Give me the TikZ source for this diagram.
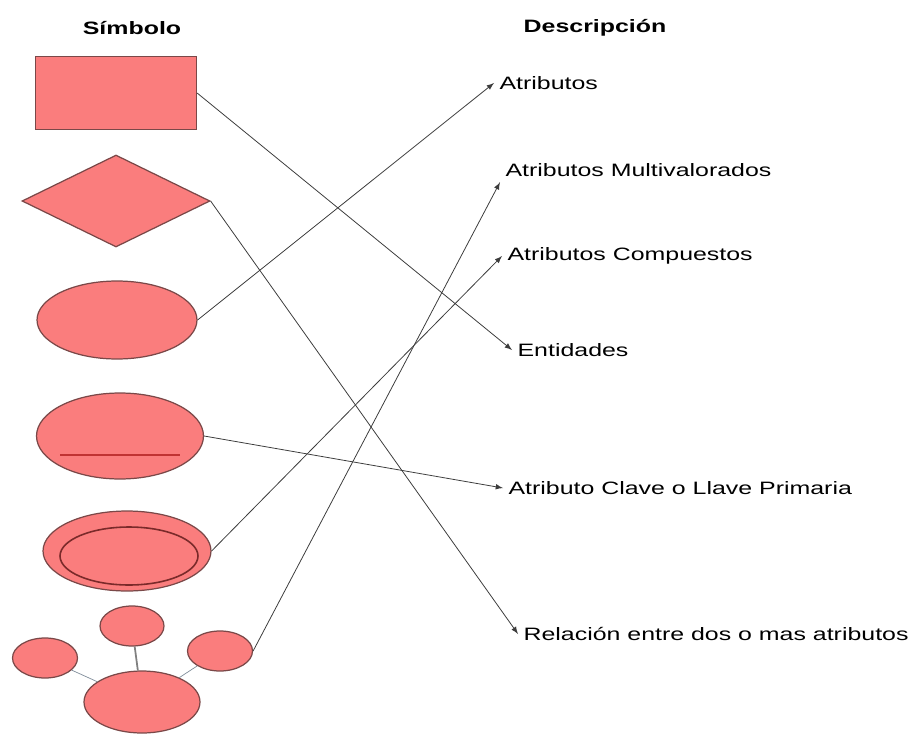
\documentclass[tikz,border=0pt]{standalone}
\usepackage{fontspec}
\setmainfont[FakeStretch=1.39]{Liberation Sans}
\usepackage{xcolor}
\usetikzlibrary{shapes.geometric}
\usetikzlibrary{arrows}

\definecolor{symfill}{HTML}{FA7D7D}
\definecolor{symline}{HTML}{7A4848}
\definecolor{keyline}{HTML}{C03333}
\definecolor{innerline}{HTML}{7A2A2A}
\definecolor{joingray}{HTML}{7F8C99}
\definecolor{linkgray}{HTML}{3C3C3C}

\begin{document}
\begin{tikzpicture}[x=0.02cm,y=-0.02cm,
  sym/.style={draw=symline,fill=symfill,line width=0.7pt,inner sep=0pt},
  oval/.style={sym,ellipse},
  ttl/.style={font=\fontsize{10.2}{12}\selectfont\bfseries},
  lbl/.style={anchor=west,inner sep=3pt,font=\fontsize{10.2}{12}\selectfont},
  link/.style={->,>=latex,line width=0.45pt,draw=linkgray}]

\useasboundingbox (0,0) rectangle (915,753);

% Column titles
\node[ttl] (tsym)  at (132,28) {Símbolo};
\node[ttl] (tdesc) at (595,28) {Descripción};

% Draw the symbols
\node[sym, minimum width=3.22cm, minimum height=1.46cm] (ent) at (116,93) {};
\node[sym, diamond, minimum width=3.76cm, minimum height=1.84cm] (rel) at (116,201) {};
\node[oval, minimum width=3.2cm, minimum height=1.56cm] (attr) at (117,320) {};
\node[oval, minimum width=3.34cm, minimum height=1.72cm] (key) at (120,436) {};
\draw[keyline, line width=1pt] (60,455) -- (180,455);
\node[oval, minimum width=3.36cm, minimum height=1.6cm] (multi) at (127,551) {};
\node[oval, draw=innerline, line width=0.9pt, minimum width=2.76cm, minimum height=1.16cm] (multiin) at (129,556) {};

% composite attribute
\node[oval, minimum width=1.28cm, minimum height=0.8cm] (ctop)   at (132,626) {};
\node[oval, minimum width=1.3cm,  minimum height=0.8cm] (cleft)  at (45,658) {};
\node[oval, minimum width=1.3cm,  minimum height=0.8cm] (cright) at (220,651) {};
\node[oval, minimum width=2.32cm, minimum height=1.24cm] (cbase) at (142,702) {};
\draw[gray, line width=1pt] (ctop) -- (cbase);
\draw[joingray] (cleft) -- (cbase);
\draw[joingray] (cright) -- (cbase);

% Descriptions
\node[lbl] (dattr)  at (494,83)  {Atributos};
\node[lbl] (dmulti) at (500,170) {Atributos Multivalorados};
\node[lbl] (dcomp)  at (502,256) {Atributos Compuestos};
\node[lbl] (dent)   at (512,350) {Entidades};
\node[lbl] (dkey)   at (503,488) {Atributo Clave o Llave Primaria};
\node[lbl] (drel)   at (518,634) {Relación entre dos o mas atributos};

% Connect symbol to description
\draw[link] (ent.east)    -- (dent.west);
\draw[link] (rel.east)    -- (drel.west);
\draw[link] (attr.east)   -- (dattr.west);
\draw[link] (key.east)    -- (dkey.west);
\draw[link] (multi.east)  -- (dcomp.west);
\draw[link] (cright.east) -- (dmulti.south west);

\end{tikzpicture}
\end{document}
